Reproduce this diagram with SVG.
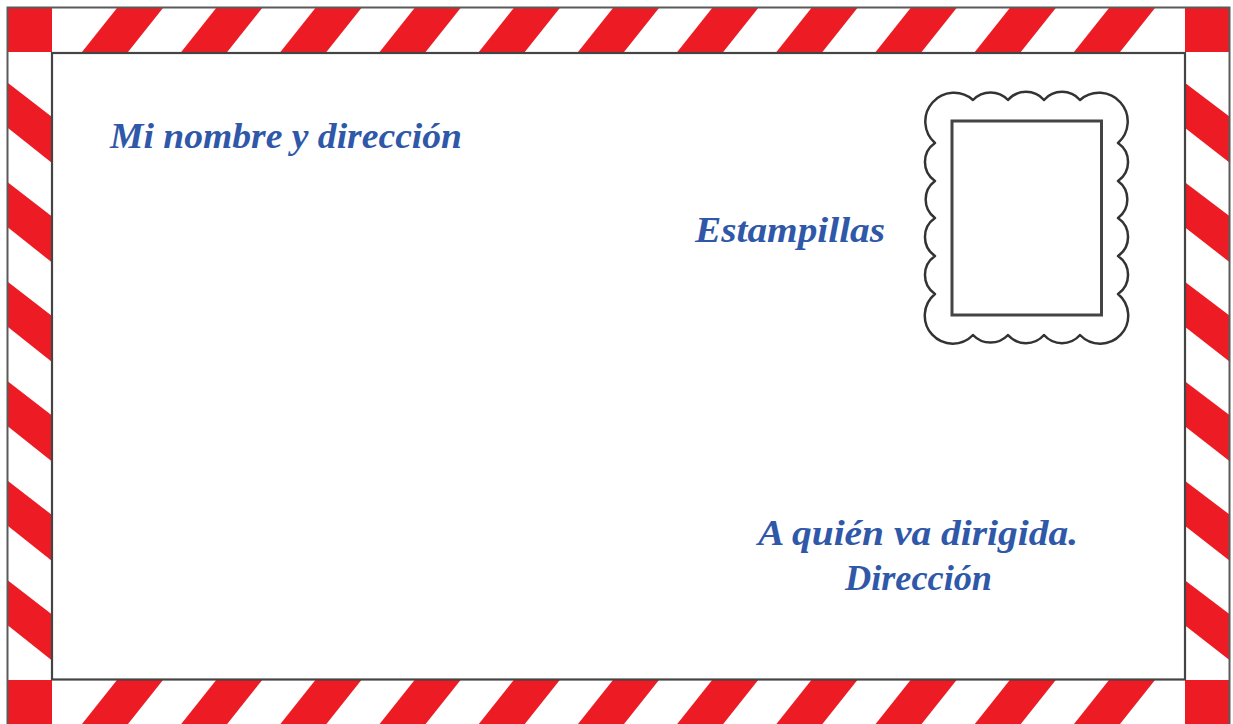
<svg xmlns="http://www.w3.org/2000/svg" xmlns:xlink="http://www.w3.org/1999/xlink" width="1233" height="724" viewBox="0 0 1233 724">
<style>
.red{fill:#ed1c24}
.lbl{font-family:"Liberation Serif","Times New Roman",serif;font-weight:bold;font-style:italic;font-size:36px;fill:#2f58a8}
.outer{fill:none;stroke:#5a5a5a;stroke-width:2}
.inner{fill:#ffffff;stroke:#444;stroke-width:2.2}
.stamp{fill:#fff;stroke:#333;stroke-width:2.5;stroke-linejoin:round}
.stampin{fill:#fff;stroke:#444;stroke-width:3}
</style>
<defs>
<polygon id="hs" class="red" points="117,8 163,8 128,52 82,52"/>
<polygon id="vs" class="red" points="8,83 8,128 52,163 52,117"/>
</defs>
<rect x="0" y="0" width="1233" height="724" fill="#ffffff"/>
<g id="border">
<rect x="8" y="8" width="1222" height="720" fill="#ffffff"/>
<g id="top-stripes">
<use xlink:href="#hs"/>
<use xlink:href="#hs" transform="translate(99.2,0)"/>
<use xlink:href="#hs" transform="translate(198.4,0)"/>
<use xlink:href="#hs" transform="translate(297.6,0)"/>
<use xlink:href="#hs" transform="translate(396.8,0)"/>
<use xlink:href="#hs" transform="translate(496,0)"/>
<use xlink:href="#hs" transform="translate(595.2,0)"/>
<use xlink:href="#hs" transform="translate(694.4,0)"/>
<use xlink:href="#hs" transform="translate(793.6,0)"/>
<use xlink:href="#hs" transform="translate(892.8,0)"/>
<use xlink:href="#hs" transform="translate(992,0)"/>
</g>
<g id="bottom-stripes" transform="translate(0,672)">
<use xlink:href="#hs"/>
<use xlink:href="#hs" transform="translate(99.2,0)"/>
<use xlink:href="#hs" transform="translate(198.4,0)"/>
<use xlink:href="#hs" transform="translate(297.6,0)"/>
<use xlink:href="#hs" transform="translate(396.8,0)"/>
<use xlink:href="#hs" transform="translate(496,0)"/>
<use xlink:href="#hs" transform="translate(595.2,0)"/>
<use xlink:href="#hs" transform="translate(694.4,0)"/>
<use xlink:href="#hs" transform="translate(793.6,0)"/>
<use xlink:href="#hs" transform="translate(892.8,0)"/>
<use xlink:href="#hs" transform="translate(992,0)"/>
</g>
<g id="left-stripes">
<use xlink:href="#vs"/>
<use xlink:href="#vs" transform="translate(0,99.5)"/>
<use xlink:href="#vs" transform="translate(0,199)"/>
<use xlink:href="#vs" transform="translate(0,298.5)"/>
<use xlink:href="#vs" transform="translate(0,398)"/>
<use xlink:href="#vs" transform="translate(0,497.5)"/>
</g>
<g id="right-stripes" transform="translate(1177,0) scale(1.02,1)">
<use xlink:href="#vs"/>
<use xlink:href="#vs" transform="translate(0,99.5)"/>
<use xlink:href="#vs" transform="translate(0,199)"/>
<use xlink:href="#vs" transform="translate(0,298.5)"/>
<use xlink:href="#vs" transform="translate(0,398)"/>
<use xlink:href="#vs" transform="translate(0,497.5)"/>
</g>
<g id="corners">
<rect class="red" x="8" y="8" width="44" height="44"/>
<rect class="red" x="1185" y="8" width="45" height="44"/>
<rect class="red" x="8" y="680" width="44" height="44"/>
<rect class="red" x="1185" y="680" width="45" height="44"/>
</g>
<rect class="outer" x="7.5" y="7.5" width="1222" height="722"/>
<rect id="card" class="inner" x="52" y="53" width="1133" height="626.5"/>
</g>
<g id="stamp">
<path class="stamp" d="M935,143 A28,28 0 1 1 973,100 A24,24 0 0 1 1008,100 A24,24 0 0 1 1044,100 A24,24 0 0 1 1080,100 A28,28 0 1 1 1118,143 A23,23 0 0 1 1118,181 A23,23 0 0 1 1118,218 A23,23 0 0 1 1118,256 A23,23 0 0 1 1118,294 A28,28 0 1 1 1080,335 A24,24 0 0 1 1044,335 A24,24 0 0 1 1008,335 A24,24 0 0 1 973,335 A28,28 0 1 1 935,294 A23,23 0 0 1 935,256 A23,23 0 0 1 935,218 A23,23 0 0 1 935,181 A23,23 0 0 1 935,143 Z"/>
<rect class="stampin" x="952" y="121" width="149.5" height="194"/>
</g>
<g id="sender">
<text class="lbl" x="110" y="148" textLength="352" lengthAdjust="spacingAndGlyphs">Mi nombre y dirección</text>
</g>
<g id="stamp-label">
<text class="lbl" x="695" y="242" textLength="190" lengthAdjust="spacingAndGlyphs">Estampillas</text>
</g>
<g id="recipient">
<text class="lbl" x="758" y="545" textLength="320" lengthAdjust="spacingAndGlyphs">A quién va dirigida.</text>
<text class="lbl" x="845" y="590" textLength="147" lengthAdjust="spacingAndGlyphs">Dirección</text>
</g>
</svg>
